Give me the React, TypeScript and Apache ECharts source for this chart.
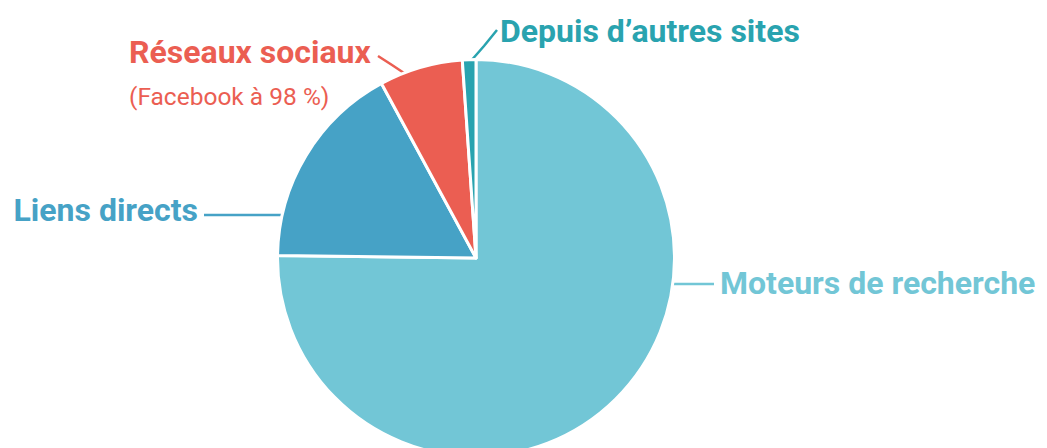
import React, { useEffect, useRef } from "react";
import * as echarts from "echarts";

const categories = ["Moteurs de recherche", "Liens directs", "Réseaux sociaux", "Depuis d’autres sites"];
const values = [75.2, 16.9, 6.8, 1.1];
const colors = ["#72C6D6", "#46A2C6", "#EB5E52", "#29A3AF"];
const subtitle = "(Facebook à 98 %)";

// label placement (text anchor + leader line points)
const labelPlacement = [
  { x: 720, y: 283, align: "left", va: "middle", line: [[671, 284], [692, 284], [714, 284]] },
  { x: 198, y: 210, align: "right", va: "middle", line: [[284, 215], [245, 215], [204, 215]] },
  { x: 129, y: 32, align: "left", va: "top", line: [[407, 75], [392, 65], [378, 56]] },
  { x: 500, y: 31, align: "left", va: "middle", line: [[470, 62], [484, 46], [497, 30]] },
];

export default function App() {
  const ref = useRef<HTMLDivElement>(null);
  useEffect(() => {
    document.body.style.margin = "0";
    const chart = echarts.init(ref.current!, null, { renderer: "svg" });
    chart.setOption({
      animation: false,
      backgroundColor: "#ffffff",
      series: [
        {
          type: "pie",
          center: [476, 258],
          radius: 198.5,
          startAngle: 90,
          clockwise: true,
          avoidLabelOverlap: false,
          itemStyle: { borderColor: "#ffffff", borderWidth: 3 },
          label: {
            show: true,
            position: "outside",
            overflow: "none",
            fontFamily: "Roboto",
            fontWeight: "bold",
            fontSize: 32,
            formatter: (p: any) =>
              p.dataIndex === 2 ? `{a|${p.name}}\n{b|${subtitle}}` : p.name,
            rich: {
              a: { fontFamily: "Roboto", fontWeight: "bold", fontSize: 32, lineHeight: 40, color: colors[2] },
              b: { fontFamily: "Roboto", fontWeight: "normal", fontSize: 24.5, lineHeight: 48, color: colors[2] },
            },
          },
          labelLine: { show: true, lineStyle: { width: 2.5 } },
          labelLayout: (params: any) => {
            const L = labelPlacement[params.dataIndex];
            return {
              x: L.x,
              y: L.y,
              align: L.align,
              verticalAlign: L.va,
              labelLinePoints: L.line,
            };
          },
          data: categories.map((name, i) => ({
            name,
            value: values[i],
            itemStyle: { color: colors[i] },
            label: { color: colors[i] },
            labelLine: { lineStyle: { color: colors[i] } },
          })),
        },
      ],
    });
    return () => chart.dispose();
  }, []);
  return <div ref={ref} style={{ width: 1047, height: 448 }} />;
}
